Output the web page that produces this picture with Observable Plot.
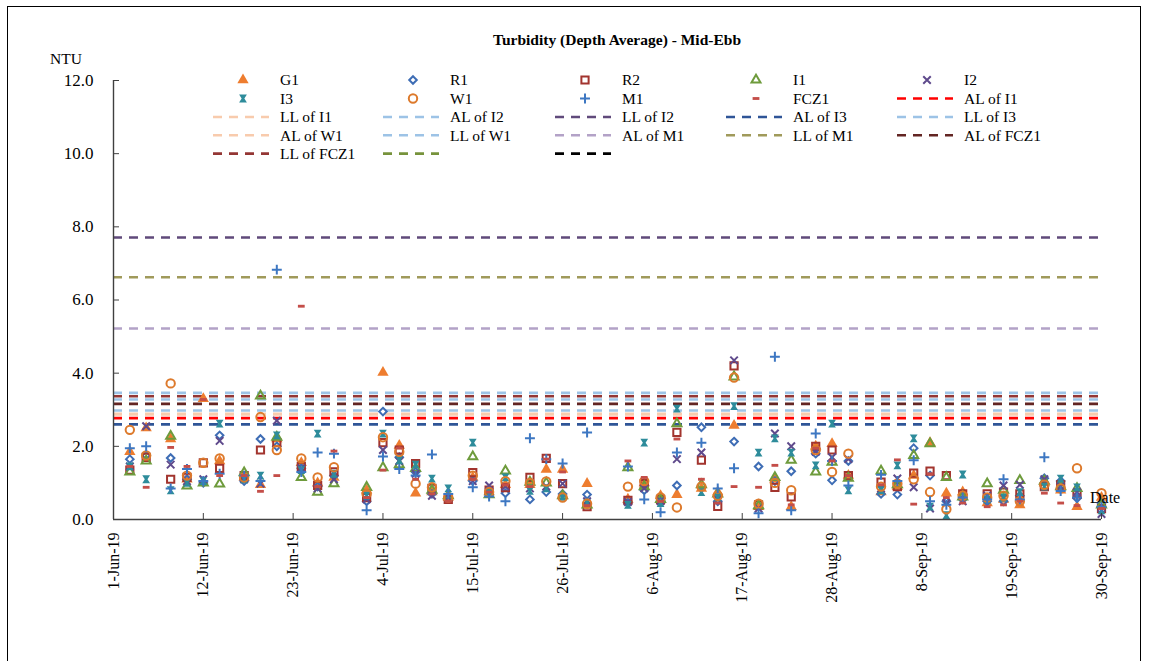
<!DOCTYPE html>
<html><head><meta charset="utf-8">
<script src="https://cdn.jsdelivr.net/npm/d3@7"></script>
<script src="https://cdn.jsdelivr.net/npm/@observablehq/plot@0.6"></script>
<style>
body{margin:0;background:#fff;}
#wrap{position:relative;width:1150px;height:661px;overflow:hidden;font-family:"Liberation Serif","Times New Roman",serif;color:#000;}
#border{position:absolute;left:7px;top:6px;width:1134px;height:700px;border:1px solid #000;box-sizing:border-box;}
#title{position:absolute;left:0;width:1234px;top:31px;text-align:center;font-weight:bold;font-size:15.5px;font-family:"Liberation Serif","Times New Roman",serif;}
#ntu{position:absolute;left:50px;top:50px;font-size:15.5px;font-family:"Liberation Serif","Times New Roman",serif;}
#datelab{position:absolute;left:1090px;top:489px;font-size:16px;}
#plot{position:absolute;left:0;top:0;}
#legend{position:absolute;left:0;top:0;}
</style></head><body>
<div id="wrap"><div id="border"></div><div id="plot"></div><svg id="legend" width="1150" height="170"></svg>
<div id="title">Turbidity (Depth Average) - Mid-Ebb</div><div id="ntu">NTU</div><div id="datelab">Date</div></div>
<script>
const dates = ["2019-06-03","2019-06-05","2019-06-08","2019-06-10","2019-06-12","2019-06-14","2019-06-17","2019-06-19","2019-06-21","2019-06-24","2019-06-26","2019-06-28",
"2019-07-02","2019-07-04","2019-07-06","2019-07-08","2019-07-10","2019-07-12","2019-07-15","2019-07-17","2019-07-19","2019-07-22","2019-07-24","2019-07-26","2019-07-29",
"2019-08-03","2019-08-05","2019-08-07","2019-08-09","2019-08-12","2019-08-14","2019-08-16","2019-08-19","2019-08-21","2019-08-23","2019-08-26","2019-08-28","2019-08-30",
"2019-09-03","2019-09-05","2019-09-07","2019-09-09","2019-09-11","2019-09-13","2019-09-16","2019-09-18","2019-09-20","2019-09-23","2019-09-25","2019-09-27","2019-09-30"];
const G1 =  [1.85,2.5,2.2,1.1,3.3,1.6,1.15,0.95,2.2,1.55,1.0,1.15, 0.8,4.02,2.02,0.72,0.75,0.6,1.15,0.75,0.95,0.95,1.37,1.37,0.98, 0.55,1.0,0.65,0.68,0.85,0.75,2.57,0.35,1.1,0.35,2.0,2.07,1.2, 0.75,0.9,1.2,2.1,0.72,0.75,0.45,0.55,0.4,1.0,0.8,0.35,0.6];
const R1 =  [1.65,1.75,1.68,1.1,1.0,2.3,1.05,2.2,2.0,1.4,0.9,1.2, 0.5,2.95,1.7,1.3,0.7,0.58,1.05,0.7,0.72,0.55,0.75,0.7,0.68, 0.45,0.8,0.5,0.93,2.52,0.5,2.13,1.45,1.05,1.32,1.8,1.07,1.6, 0.7,0.68,1.95,1.2,0.5,0.55,0.5,0.5,0.65,1.13,1.05,0.58,0.45];
const R2 =  [1.35,1.7,1.1,1.15,1.55,1.4,1.2,1.9,2.1,1.45,0.93,1.3, 0.6,2.1,1.9,1.53,0.85,0.55,1.28,0.8,0.87,1.15,1.67,0.98,0.35, 0.52,0.98,0.55,2.38,1.62,0.36,4.2,0.4,0.88,0.62,2.0,1.9,1.2, 1.02,0.9,1.27,1.32,1.2,0.7,0.7,0.75,0.7,0.9,0.95,0.7,0.3];
const I1 =  [1.3,1.6,2.28,0.92,1.0,0.97,1.28,3.38,2.25,1.15,0.75,0.98, 0.88,1.42,1.5,1.4,0.8,0.65,1.72,0.68,1.33,1.02,1.0,0.65,0.4, 1.42,0.9,0.55,2.62,0.95,0.7,3.9,0.38,1.15,1.62,1.3,1.57,1.13, 1.33,0.95,1.75,2.07,1.15,0.62,0.98,0.8,1.07,1.05,0.9,0.85,0.4];
const I2 =  [1.45,2.55,1.5,1.05,1.1,2.15,1.1,0.98,2.7,1.4,0.85,1.1, 0.55,1.9,1.6,1.25,0.65,0.6,1.05,0.93,0.9,0.85,0.9,0.98,0.5, 0.48,0.85,0.5,1.65,1.83,0.55,4.35,0.3,2.35,2.0,1.85,1.7,1.65, 0.85,1.12,0.88,0.3,0.45,0.5,0.65,0.93,0.95,1.1,0.9,0.75,0.15];
const I3 =  [1.45,1.1,0.8,1.0,1.05,2.62,1.1,1.2,2.3,1.35,2.35,1.25, 0.65,2.35,1.62,1.5,1.12,0.85,2.1,0.72,1.15,0.78,0.85,0.62,0.45, 0.4,2.1,0.45,3.03,0.75,0.6,3.1,1.83,2.22,1.83,1.48,2.62,0.8, 0.8,1.48,2.22,0.35,0.12,1.23,0.55,0.6,0.75,0.9,1.12,0.88,0.25];
const W1 =  [2.45,1.75,3.72,1.2,1.55,1.67,1.15,2.8,1.9,1.67,1.15,1.43, 0.7,2.25,1.85,0.98,0.88,0.6,1.2,0.75,1.05,1.0,1.04,0.6,0.43, 0.9,1.05,0.6,0.33,0.9,0.65,3.88,0.43,1.0,0.8,1.9,1.3,1.8, 0.9,0.98,1.1,0.75,0.28,0.65,0.6,0.65,0.5,0.95,0.85,1.4,0.72];
const M1 =  [1.95,2.0,0.85,1.38,1.05,1.25,1.2,1.05,6.83,1.3,1.83,1.8, 0.25,1.72,1.38,1.2,1.78,0.7,0.88,0.63,0.5,2.22,1.65,1.53,2.38, 1.45,0.55,0.2,1.83,2.1,0.85,1.4,0.17,4.45,0.25,2.35,1.6,0.93, 1.22,1.05,1.62,0.5,0.4,0.6,0.55,1.1,0.55,1.7,0.78,0.6,0.35];
const FCZ1 =[1.45,0.88,1.97,1.45,3.28,1.2,1.2,0.77,1.2,5.83,0.9,1.87, 0.6,1.35,1.95,1.1,0.7,0.5,1.1,0.75,0.95,0.9,1.65,1.3,0.38, 1.6,1.15,0.5,2.2,1.1,0.45,0.9,0.88,1.48,0.4,1.95,1.6,1.2, 0.95,1.63,0.42,1.25,0.6,0.45,0.35,0.4,0.5,0.72,0.45,0.38,0.3];

const seriesNames = ["G1","R1","R2","I1","I2","I3","W1","M1","FCZ1"];
const seriesValues = [G1,R1,R2,I1,I2,I3,W1,M1,FCZ1];
const seriesColors = ["#EE7D2F","#3E6DB5","#A2342E","#6E9B3C","#5F4A8C","#2E8C9B","#DD7A2C","#3D77C2","#C44E49"];

const lineNames = ["AL of I1","LL of I1","AL of I2","LL of I2","AL of I3","LL of I3","AL of W1","LL of W1","AL of M1","LL of M1","AL of FCZ1","LL of FCZ1","",""];
const lineValues = [2.77,2.89,2.98,7.71,2.60,3.28,2.87,3.46,5.22,6.62,3.16,3.37,null,null];
const lineColors = ["#FF0000","#F8CBAD","#9DC3E6","#604A7B","#2F5597","#9DC3E6","#F8CBAD","#9DC3E6","#B3A2C7","#A09A5B","#632523","#943634","#77933C","#000000"];

const yTicks = [0,2,4,6,8,10,12];
const xTickLabels = ["1-Jun-19","12-Jun-19","23-Jun-19","4-Jul-19","15-Jul-19","26-Jul-19","6-Aug-19","17-Aug-19","28-Aug-19","8-Sep-19","19-Sep-19","30-Sep-19"];

const parseTick = d3.utcParse("%-d-%b-%y");
const fmtTick = d3.utcFormat("%-d-%b-%y");
const xTicks = xTickLabels.map(parseTick);
const xDomain = [xTicks[0], xTicks[xTicks.length-1]];

const hourglass = {draw(ctx, size){ const r = Math.sqrt(size/Math.PI);
  ctx.moveTo(-r,-r); ctx.lineTo(r,-r); ctx.lineTo(r*0.35,0); ctx.lineTo(r,r); ctx.lineTo(-r,r); ctx.lineTo(-r*0.35,0); ctx.closePath(); }};
const dash = {draw(ctx, size){ const r = Math.sqrt(size/Math.PI);
  ctx.moveTo(-r,-r*0.42); ctx.lineTo(r,-r*0.42); ctx.lineTo(r,r*0.42); ctx.lineTo(-r,r*0.42); ctx.closePath(); }};
const seriesSymbols = ["triangle","diamond2","square2","triangle2","times",hourglass,"circle","plus",dash];
const d3Symbols = [d3.symbolTriangle,d3.symbolDiamond2,d3.symbolSquare2,d3.symbolTriangle2,d3.symbolTimes,hourglass,d3.symbolCircle,d3.symbolPlus,dash];
const seriesFilled = [true,false,false,false,false,true,false,false,true];
const seriesR = [4.2,3.4,4.6,4.3,3.5,3.9,4.2,3.3,3.4];

const table = [];
seriesNames.forEach((s,i)=>dates.forEach((d,j)=>{ if (seriesValues[i][j]!=null) table.push({s, date:new Date(d), v:seriesValues[i][j]}); }));
const lines = lineNames.map((n,i)=>({n, v:lineValues[i], c:lineColors[i]})).filter(d=>d.v!=null);

const marks = [];
lines.forEach(l => marks.push(Plot.ruleY([l.v], {stroke:l.c, strokeWidth:2.6, strokeDasharray:"9,7"})));
seriesNames.forEach((s,i)=>{
  const data = table.filter(d=>d.s===s);
  const opt = {x:"date", y:"v", symbol:seriesSymbols[i], r:seriesR[i]};
  if (seriesFilled[i]) { opt.fill = seriesColors[i]; opt.stroke = "none"; }
  else { opt.stroke = seriesColors[i]; opt.fill = "none"; opt.strokeWidth = 2; }
  marks.push(Plot.dot(data, opt));
});
marks.push(Plot.ruleX([xDomain[0]], {stroke:"#404040", strokeWidth:1.4}));
marks.push(Plot.ruleY([0], {stroke:"#404040", strokeWidth:1.4}));
marks.push(Plot.axisY({ticks:yTicks, tickFormat:d=>d.toFixed(1), tickSize:-6, tickPadding:26, fontSize:17, label:null, stroke:"#404040"}));
marks.push(Plot.axisX({ticks:xTicks, tickFormat:fmtTick, tickSize:-6, tickPadding:19, tickRotate:-90, fontSize:16, label:null, stroke:"#404040"}));

const chart = Plot.plot({
  width:1150, height:661,
  marginLeft:113, marginRight:49, marginTop:80, marginBottom:142,
  style:{fontFamily:'"Liberation Serif","Times New Roman",serif', color:"#000", background:"transparent"},
  x:{type:"utc", domain:xDomain},
  y:{domain:[0,12]},
  marks
});
document.getElementById("plot").appendChild(chart);

// legend
const legendItems = [];
seriesNames.forEach((s,i)=>legendItems.push({type:"dot", i, label:s}));
lineNames.forEach((n,i)=>legendItems.push({type:"line", c:lineColors[i], label:n}));
const lg = d3.select("#legend");
const colX = [243,413,585,756,927], rowY = [80,98.5,117,135.3,153.6];
legendItems.forEach((it,k)=>{
  const col = k%5, row = Math.floor(k/5);
  const cx = colX[col], cy = rowY[row];
  if (it.type==="dot") {
    const i = it.i;
    const p = lg.append("path").attr("transform",`translate(${cx},${cy})`)
      .attr("d", d3.symbol(d3Symbols[i], Math.PI*seriesR[i]*seriesR[i])());
    if (seriesFilled[i]) p.attr("fill",seriesColors[i]); else p.attr("fill","none").attr("stroke",seriesColors[i]).attr("stroke-width",2);
  } else {
    lg.append("line").attr("x1",cx-30).attr("x2",cx+26).attr("y1",cy).attr("y2",cy)
      .attr("stroke",it.c).attr("stroke-width",2.6).attr("stroke-dasharray","9,7");
  }
  if (it.label) lg.append("text").attr("x",cx+37).attr("y",cy).attr("dy","0.35em")
    .attr("font-size",15.5).attr("font-family",'"Liberation Serif","Times New Roman",serif').text(it.label);
});
</script>
</body></html>
